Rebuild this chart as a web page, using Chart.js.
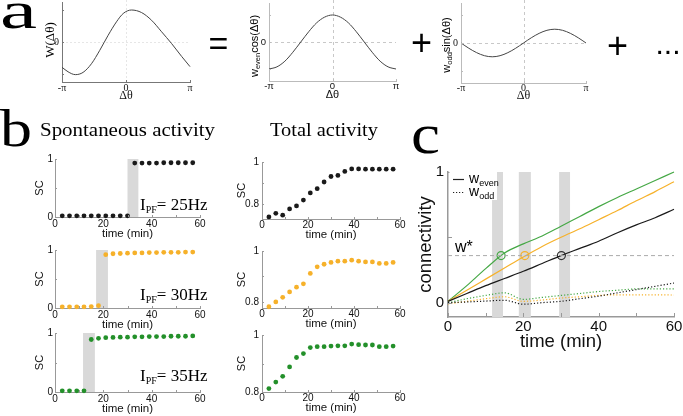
<!DOCTYPE html>
<html><head><meta charset="utf-8">
<script src="https://cdn.jsdelivr.net/npm/chart.js@4.4.0/dist/chart.umd.min.js"></script>
<style>
body{margin:0;background:#fff;}
#fig{position:relative;width:683px;height:416px;overflow:hidden;background:#fff;}
canvas{position:absolute;}
#ov{position:absolute;left:0;top:0;}
</style></head>
<body><div id="fig">
<svg id="ov" width="683" height="416" xmlns="http://www.w3.org/2000/svg">
 <g font-family="'Liberation Serif','Times New Roman',serif" fill="#000">
  <text x="0" y="28" font-size="52" textLength="37" lengthAdjust="spacingAndGlyphs">a</text>
  <text x="0" y="146" font-size="52" textLength="32" lengthAdjust="spacingAndGlyphs">b</text>
  <text x="411" y="153" font-size="56" textLength="29" lengthAdjust="spacingAndGlyphs">c</text>
  <text x="40" y="136" font-size="19" textLength="175" lengthAdjust="spacingAndGlyphs">Spontaneous activity</text>
  <text x="270" y="136" font-size="19" textLength="108" lengthAdjust="spacingAndGlyphs">Total activity</text>
  <text transform="translate(54,40) rotate(-90)" text-anchor="middle" font-size="13">W(Δθ)</text>
  <text x="140" y="210" font-size="17">I<tspan font-size="10" dy="3">PF</tspan><tspan dy="-3">= 25Hz</tspan></text>
  <text x="140" y="300" font-size="17">I<tspan font-size="10" dy="3">PF</tspan><tspan dy="-3">= 30Hz</tspan></text>
  <text x="140" y="381" font-size="17">I<tspan font-size="10" dy="3">PF</tspan><tspan dy="-3">= 35Hz</tspan></text>
 </g>
 <g font-family="'Liberation Sans',Arial,sans-serif" fill="#000">
  <text x="218.5" y="54.5" font-size="34" text-anchor="middle">=</text>
  <text x="421.5" y="55" font-size="36" text-anchor="middle">+</text>
  <text x="617.5" y="58" font-size="36" text-anchor="middle">+</text>
  <text x="668" y="54" font-size="30" text-anchor="middle">...</text>
  <text transform="translate(257.5,46) rotate(-90)" text-anchor="middle" font-size="11">w<tspan font-size="7.5" dy="2.5">even</tspan><tspan dy="-2.5">cos(Δθ)</tspan></text>
  <text transform="translate(449.5,45) rotate(-90)" text-anchor="middle" font-size="11">w<tspan font-size="7.5" dy="2.5">odd</tspan><tspan dy="-2.5">sin(Δθ)</tspan></text>
  <text x="455" y="252" font-size="16">w*</text>
  <rect x="449.5" y="171" width="47.5" height="29" fill="#fff"/>
  <line x1="453" y1="179.5" x2="464" y2="179.5" stroke="#222" stroke-width="1.2"/>
  <line x1="453" y1="192.5" x2="464" y2="192.5" stroke="#222" stroke-width="1.2" stroke-dasharray="1.2,1.8"/>
  <text x="469" y="183" font-size="14">w<tspan font-size="9" dy="3">even</tspan></text>
  <text x="469" y="196" font-size="14">w<tspan font-size="9" dy="3">odd</tspan></text>
 </g>
</svg>
</div>
<script>
// ---------- data ----------
const Wtheta = [-1,-0.906,-0.791,-0.671,-0.54,-0.41,-0.279,-0.149,-0.044,0.086,0.243,0.399,0.556,0.713,0.869,1];
const Wvalue = [-0.79,-0.93,-1.02,-0.95,-0.68,-0.26,0.21,0.63,0.89,1.0,0.92,0.68,0.32,-0.05,-0.45,-0.77];
const basisTheta = [-1,-0.875,-0.75,-0.625,-0.5,-0.375,-0.25,-0.125,0,0.125,0.25,0.375,0.5,0.625,0.75,0.875,1];
const evenValue = [-1,-0.92,-0.71,-0.38,0,0.38,0.71,0.92,1,0.92,0.71,0.38,0,-0.38,-0.71,-0.92,-1];
const oddValue = [0,-0.19,-0.35,-0.46,-0.5,-0.46,-0.35,-0.19,0,0.19,0.35,0.46,0.5,0.46,0.35,0.19,0];
const thetaTicks = [-1,0,1];
const thetaLabels = ['-π','0','π'];

const sampleTimes = [3,6,9,12,15,18,21,24,27,30,33,36,39,42,45,48,51,54,57];
const spont25 = [0.02,0.02,0.02,0.02,0.02,0.02,0.02,0.02,0.02,0.02,0.93,0.93,0.93,0.93,0.935,0.935,0.935,0.935,0.935];
const spont30 = [0.02,0.02,0.02,0.02,0.025,0.04,0.92,0.935,0.94,0.945,0.95,0.95,0.955,0.955,0.96,0.96,0.96,0.965,0.965];
const spont35 = [0.02,0.02,0.02,0.02,0.89,0.91,0.92,0.925,0.93,0.93,0.935,0.935,0.94,0.94,0.94,0.945,0.945,0.945,0.95];
const total25 = [0.739,0.756,0.747,0.777,0.791,0.819,0.853,0.873,0.905,0.931,0.936,0.955,0.967,0.967,0.966,0.966,0.966,0.966,0.966];
const total30 = [0.781,0.8,0.818,0.839,0.858,0.871,0.912,0.938,0.948,0.955,0.96,0.96,0.964,0.96,0.957,0.957,0.951,0.951,0.955];
const total35 = [0.812,0.835,0.855,0.888,0.921,0.935,0.956,0.959,0.959,0.961,0.962,0.962,0.968,0.966,0.965,0.965,0.959,0.959,0.961];
const band25 = [[30,34.5]];
const band30 = [[17,21.9]];
const band35 = [[11.6,16.5]];
const timeTicks = [0,10,20,30,40,50,60];
const timeLabels = ['0','','20','','40','','60'];
const scTicks = [0,0.5,1];
const scLabels = ['0','','1'];
const totTicks = [0.8,0.9,1];
const totLabels = ['0.8','','1'];

const cTime = [0,5,10,15,20,25,30,35,40,45,50,55,60];
const even25 = [0.01,0.07,0.13,0.185,0.24,0.30,0.36,0.415,0.47,0.535,0.595,0.65,0.715];
const even30 = [0.01,0.095,0.18,0.265,0.35,0.43,0.50,0.565,0.635,0.705,0.78,0.85,0.925];
const even35 = [0.01,0.13,0.26,0.38,0.45,0.51,0.585,0.66,0.735,0.805,0.87,0.935,1.0];
const odd25 = [0.0,0.005,0.012,0.018,-0.012,0.0,0.01,0.03,0.05,0.075,0.1,0.125,0.15];
const odd30 = [-0.01,0.01,0.03,0.045,0.01,0.02,0.035,0.045,0.055,0.06,0.06,0.06,0.058];
const odd35 = [0.0,0.03,0.055,0.075,0.025,0.04,0.055,0.07,0.085,0.095,0.105,0.105,0.105];
const cBands = [[11.7,14.6],[18.8,22.0],[29.5,32.4]];
const crossTimes25 = [30.1], crossTimes30 = [20.4], crossTimes35 = [14.1];
const wStar = [0.36];
const cYTicks = [0,0.5,1];
const cYLabels = ['0','','1'];

// ---------- colours ----------
const BLACK='#1a1a1a', ORANGE='#f6b12a', GREEN='#23902a', GREENL='#45a845', BAND='#d9d9d9';

// ---------- helpers ----------
const fig=document.getElementById('fig'), ov=document.getElementById('ov');
Chart.defaults.font.family="'Liberation Sans', Arial, sans-serif";
Chart.defaults.color='#111';
const SERIF="'Liberation Serif','Times New Roman',serif";

const bandPlugin={id:'bands',beforeDatasetsDraw(ch,a,o){
  if(!o||!o.ranges||!o.ranges.length)return;
  const {ctx,chartArea:ca,scales:{x}}=ch;ctx.save();ctx.fillStyle=BAND;
  o.ranges.forEach(r=>{const x1=x.getPixelForValue(r[0]),x2=x.getPixelForValue(r[1]);ctx.fillRect(x1,ca.top,x2-x1,ca.bottom-ca.top);});
  ctx.restore();}};
const crossPlugin={id:'cross',beforeDatasetsDraw(ch,a,o){
  if(!o||!o.color)return;
  const {ctx,chartArea:ca,scales:{x,y}}=ch;ctx.save();ctx.strokeStyle=o.color;ctx.lineWidth=1;ctx.setLineDash(o.dash||[3,3]);
  const px=Math.round(x.getPixelForValue(0))+0.5,py=Math.round(y.getPixelForValue(0))+0.5;
  ctx.beginPath();ctx.moveTo(px,0);ctx.lineTo(px,ca.bottom);ctx.moveTo(ca.left,py);ctx.lineTo(ca.right,py);ctx.stroke();ctx.restore();}};
const inTicks={id:'inTicks',afterDatasetsDraw(ch,a,o){
  if(!o||!o.len)return;
  const {ctx,chartArea:ca,scales:{x,y}}=ch;ctx.save();ctx.strokeStyle=o.color||'#888';ctx.lineWidth=1;ctx.beginPath();
  x.ticks.forEach(t=>{const p=Math.round(x.getPixelForValue(t.value))+0.5;ctx.moveTo(p,ca.bottom);ctx.lineTo(p,ca.bottom-o.len);});
  y.ticks.forEach(t=>{const p=Math.round(y.getPixelForValue(t.value))+0.5;ctx.moveTo(ca.left,p);ctx.lineTo(ca.left+o.len,p);});
  ctx.stroke();ctx.restore();}};

function pts(xs,ys){return xs.map((v,i)=>({x:v,y:ys[i]}));}
function scale(min,max,ticks,labels,font,pad,title,borderColor,borderWidth){
  return {type:'linear',min,max,
    afterBuildTicks:s=>{s.ticks=ticks.map(v=>({value:v}));},
    grid:{display:false,drawTicks:false},
    border:{display:true,color:borderColor||'#888',width:borderWidth||1},
    ticks:{autoSkip:false,maxRotation:0,padding:pad,font,color:'#111',callback:(v,i)=>labels[i]},
    title:title||{display:false}};
}
function make(box,plot,datasets,xs,ys,plug){
  const [bx,by,bw,bh]=box,[l,t,r,b]=plot;
  const cv=document.createElement('canvas');cv.width=bw;cv.height=bh;
  cv.style.cssText=`left:${bx}px;top:${by}px;width:${bw}px;height:${bh}px`;
  fig.insertBefore(cv,ov);
  const yW=l-bx,xH=by+bh-b;
  const zero=s=>{s.paddingLeft=0;s.paddingRight=0;s.paddingTop=0;s.paddingBottom=0;};
  xs.afterFit=s=>{s.height=xH;zero(s);};
  ys.afterFit=s=>{s.width=yW;zero(s);};
  return new Chart(cv,{type:'scatter',data:{datasets},
    options:{responsive:false,animation:false,devicePixelRatio:1,
      layout:{padding:{left:0,top:t-by,right:bx+bw-r,bottom:0}},
      scales:{x:xs,y:ys},
      plugins:Object.assign({legend:{display:false},tooltip:{enabled:false}},plug||{})},
    plugins:[bandPlugin,crossPlugin,inTicks]});
}
function curve(xs,ys,color,w,dash){return {data:pts(xs,ys),showLine:true,borderColor:color,borderWidth:w||1,pointRadius:0,borderDash:dash||[],cubicInterpolationMode:'monotone',clip:false};}
function dots(xs,ys,color){return {data:pts(xs,ys),showLine:false,pointRadius:2.4,pointBorderWidth:0,backgroundColor:color,borderColor:color,clip:false};}

// ---------- panel a ----------
const fSerif10={family:SERIF,size:10}, fSans9={size:9.5};
make([38,0,162,106],[62,2,190,82],[curve(Wtheta,Wvalue,'#444',1)],
  scale(-1,1,thetaTicks,thetaLabels,fSerif10,0,{display:true,text:'Δθ',font:{family:SERIF,size:12},padding:{top:0,bottom:3},color:'#111'},'#777'),
  scale(-1.25,1.25,[-1,0,1],['','0',''],fSerif10,3,null,'#777'),
  {cross:{color:'#e6e6e6',dash:[2,2]},inTicks:{len:2,color:'#777'}});
make([250,0,156,106],[269,3,396,81],[curve(basisTheta,evenValue,'#444',1)],
  scale(-1,1,thetaTicks,thetaLabels,fSans9,0,{display:true,text:'Δθ',font:{size:11},padding:{top:0,bottom:4},color:'#111'},'#bbb'),
  scale(-1.444,1.444,[-1,0,1],['','0',''],fSans9,3,null,'#bbb'),
  {cross:{color:'#c8c8c8',dash:[3,3]},inTicks:{len:2,color:'#bbb'}});
make([443,0,153,106],[461,3,586,83],[curve(basisTheta,oddValue,'#444',1)],
  scale(-1,1,thetaTicks,thetaLabels,fSerif10,-1,{display:true,text:'Δθ',font:{family:SERIF,size:12},padding:{top:0,bottom:3},color:'#111'},'#bbb'),
  scale(-1.45,1.45,[-1,0,1],['','0',''],fSerif10,3,null,'#bbb'),
  {cross:{color:'#c8c8c8',dash:[3,3]},inTicks:{len:2,color:'#bbb'}});

// ---------- panel b ----------
const f10={size:10};
function timeTitle(pb){return {display:true,text:'time (min)',font:{size:11.5},padding:{top:0,bottom:pb},color:'#111'};}
function scTitle(pt){return {display:true,text:'SC',font:{size:11},padding:{top:pt,bottom:0},color:'#111'};}
const spontRows=[[150,159,217,spont25,band25,BLACK,1],[241,250,308,spont30,band30,ORANGE,1],[324,333,392,spont35,band35,GREEN,0]];
spontRows.forEach(([by,t,b,vals,bands,col,pb])=>{
  make([30,by,180,92],[55,t,200,b],[dots(sampleTimes,vals,col)],
    scale(0,60,timeTicks,timeLabels,f10,1,timeTitle(pb),'#999'),
    scale(0,1,scTicks,scLabels,f10,2,scTitle(3),'#999'),
    {bands:{ranges:bands},inTicks:{len:2,color:'#999'}});
});
const totalRows=[[150,162,219,0.729,total25,BLACK,0],[241,251,308,0.776,total30,ORANGE,2],[324,335,392,0.8,total35,GREEN,1]];
totalRows.forEach(([by,t,b,mn,vals,col,pb])=>{
  make([225,by,185,92],[262,t,400,b],[dots(sampleTimes,vals,col)],
    scale(0,60,timeTicks,timeLabels,f10,0,timeTitle(pb),'#999'),
    scale(mn,1,totTicks,totLabels,f10,3,scTitle(10),'#999'),
    {inTicks:{len:2,color:'#999'}});
});

// ---------- panel c ----------
const f15={size:15};
make([415,160,268,256],[448,172,674,317],[
   curve([0,60],[wStar[0],wStar[0]],'#aaa',1,[4,3]),
   curve(cTime,odd25,BLACK,1.2,[1.2,2]),
   curve(cTime,odd30,ORANGE,1.2,[1.2,2]),
   curve(cTime,odd35,GREENL,1.2,[1.2,2]),
   curve(cTime,even25,BLACK,1.2),
   curve(cTime,even30,ORANGE,1.2),
   curve(cTime,even35,GREENL,1.2),
   {data:pts(crossTimes25,wStar),showLine:false,pointRadius:4,pointBorderWidth:1.2,borderColor:'#333',backgroundColor:'rgba(0,0,0,0)',clip:false},
   {data:pts(crossTimes30,wStar),showLine:false,pointRadius:4,pointBorderWidth:1.2,borderColor:ORANGE,backgroundColor:'rgba(0,0,0,0)',clip:false},
   {data:pts(crossTimes35,wStar),showLine:false,pointRadius:4,pointBorderWidth:1.2,borderColor:GREENL,backgroundColor:'rgba(0,0,0,0)',clip:false}],
  scale(0,60,timeTicks,timeLabels,f15,1,{display:true,text:'time (min)',font:{size:18.5},padding:{top:0,bottom:63},color:'#111'},'#999',1.5),
  scale(-0.11,1,cYTicks,cYLabels,f15,4,{display:true,text:'connectivity',font:{size:18.5},padding:{top:0,bottom:0},color:'#111'},'#999',1.5),
  {bands:{ranges:cBands},inTicks:{len:4,color:'#999'}});
</script>
</body></html>
